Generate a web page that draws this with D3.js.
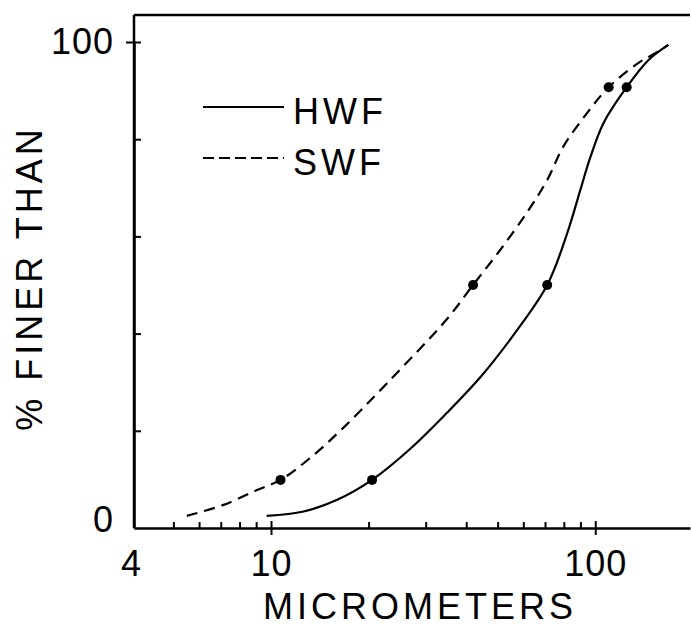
<!DOCTYPE html>
<html>
<head>
<meta charset="utf-8">
<script src="https://cdn.jsdelivr.net/npm/d3@7"></script>
<style>
  body { margin: 0; background: #fff; }
  svg { display: block; }
  text { font-family: "Liberation Sans", Arial, sans-serif; fill: #000; }
</style>
</head>
<body>
<svg id="chart" width="691" height="626"></svg>
<script>
// ---- Data ----
const seriesNames = ["HWF", "SWF"];
const hwfSize = [9.7, 12.6, 16.0, 20.5, 26.9, 34.9, 44.2, 55.8, 71.1, 82.0, 89.9, 96.6, 106, 125, 146, 168];
const hwfPct  = [2.5, 3.4, 5.8, 9.9, 16.3, 23.7, 31.0, 39.6, 50.0, 60.7, 69.5, 76.3, 83.3, 90.7, 96.3, 99.4];
const swfSize = [5.5, 7.1, 9.05, 10.7, 13.2, 16.7, 22.8, 34.9, 42.0, 50.9, 61.7, 71.1, 79.6, 94.4, 110, 136, 155, 168];
const swfPct  = [2.5, 4.7, 7.8, 9.9, 14.4, 20.6, 29.8, 43.0, 50.0, 57.2, 65.0, 71.6, 78.4, 85.4, 90.7, 95.7, 97.9, 99.4];
const hwfMarkSize = [20.5, 71.1, 125];
const hwfMarkPct  = [9.9, 50.0, 90.7];
const swfMarkSize = [10.7, 42.0, 110];
const swfMarkPct  = [9.9, 50.0, 90.7];
const xTickLabels = [4, 10, 100];
const xMinorTicks = [5, 6, 7, 8, 9, 20, 30, 40, 50, 60, 70, 80, 90];
const yTicks = [0, 20, 40, 60, 80, 100];
const yTickLabels = [0, 100];

// ---- Layout ----
const svg = d3.select("#chart");
const plotLeft = 134, plotRight = 690, plotTop = 15, plotBottom = 528;
const x = d3.scaleLog().domain([3.78, 196]).range([plotLeft, plotRight]);
const y = d3.scaleLinear().domain([0, 100]).range([plotBottom, 42]);
const FONT = 36;

// frame: top line and left line
svg.append("line")
  .attr("x1", plotLeft).attr("x2", plotRight).attr("y1", plotTop).attr("y2", plotTop)
  .attr("stroke", "#000").attr("stroke-width", 2.5);
svg.append("line")
  .attr("x1", plotLeft).attr("x2", plotLeft).attr("y1", plotTop).attr("y2", plotBottom)
  .attr("stroke", "#000").attr("stroke-width", 2.5);

// Y axis
const yAxis = d3.axisLeft(y)
  .tickValues(yTicks)
  .tickSizeInner(-7).tickSizeOuter(0).tickPadding(20)
  .tickFormat(d => yTickLabels.includes(d) ? String(d) : "");
const gy = svg.append("g").attr("transform", `translate(${plotLeft},0)`).call(yAxis);
gy.select(".domain").attr("stroke-width", 2.5);
gy.selectAll(".tick line").attr("stroke-width", 2);
gy.selectAll(".tick").filter(d => d === 100).select("line").attr("x1", -8).attr("x2", 7);
gy.selectAll(".tick").filter(d => d === 0).select("line").remove();
gy.selectAll(".tick text").attr("font-size", FONT).attr("font-family", "Liberation Sans, Arial, sans-serif")
  .attr("letter-spacing", 1);
gy.selectAll(".tick").filter(d => d === 0).select("text").attr("dy", "0.1em");

// X axis (labels + major ticks)
const xAxis = d3.axisBottom(x)
  .tickValues(xTickLabels)
  .tickSizeInner(0).tickSizeOuter(0).tickPadding(22)
  .tickFormat(d => String(d));
const gx = svg.append("g").attr("transform", `translate(0,${plotBottom})`).call(xAxis);
gx.select(".domain").attr("stroke-width", 2.5);
gx.selectAll(".tick").filter(d => d === 10 || d === 100).select("line")
  .attr("y1", -7).attr("y2", 7).attr("stroke-width", 2);
gx.selectAll(".tick text").attr("font-size", FONT).attr("font-family", "Liberation Sans, Arial, sans-serif")
  .attr("letter-spacing", 1);
gx.selectAll(".tick").filter(d => d === 4).select("text").attr("dx", -11);

// X minor ticks
const xMinor = d3.axisBottom(x).tickValues(xMinorTicks).tickSizeInner(-6).tickSizeOuter(0).tickFormat("");
const gxm = svg.append("g").attr("transform", `translate(0,${plotBottom})`).call(xMinor);
gxm.select(".domain").remove();
gxm.selectAll(".tick line").attr("stroke-width", 2);

// Axis titles
svg.append("text")
  .attr("x", 420).attr("y", 619)
  .attr("text-anchor", "middle")
  .attr("font-size", FONT).attr("letter-spacing", 4)
  .text("MICROMETERS");
svg.append("text")
  .attr("transform", "translate(42,278) rotate(-90)")
  .attr("text-anchor", "middle")
  .attr("font-size", FONT).attr("letter-spacing", 4)
  .text("% FINER THAN");

// Curves
const line = d3.line().x(d => x(d[0])).y(d => y(d[1])).curve(d3.curveCatmullRom.alpha(0.5));
const hwf = hwfSize.map((s, i) => [s, hwfPct[i]]);
const swf = swfSize.map((s, i) => [s, swfPct[i]]);
svg.append("path").datum(hwf).attr("d", line)
  .attr("fill", "none").attr("stroke", "#000").attr("stroke-width", 2.2);
svg.append("path").datum(swf).attr("d", line)
  .attr("fill", "none").attr("stroke", "#000").attr("stroke-width", 2.2)
  .attr("stroke-dasharray", "11,7");

// Markers
const marks = hwfMarkSize.map((s, i) => [s, hwfMarkPct[i]])
  .concat(swfMarkSize.map((s, i) => [s, swfMarkPct[i]]));
svg.selectAll("circle.mark").data(marks).join("circle")
  .attr("class", "mark")
  .attr("cx", d => x(d[0])).attr("cy", d => y(d[1])).attr("r", 5)
  .attr("fill", "#000");

// Legend
const legend = svg.append("g");
const legendRows = [
  { name: seriesNames[0], dash: null, ly: 107 },
  { name: seriesNames[1], dash: "11,5", ly: 158 }
];
legendRows.forEach(r => {
  legend.append("line")
    .attr("x1", 203).attr("x2", 284).attr("y1", r.ly).attr("y2", r.ly)
    .attr("stroke", "#000").attr("stroke-width", 2)
    .attr("stroke-dasharray", r.dash);
  legend.append("text")
    .attr("x", 293).attr("y", r.ly + 17)
    .attr("font-size", FONT).attr("letter-spacing", 4)
    .text(r.name);
});
</script>
</body>
</html>
